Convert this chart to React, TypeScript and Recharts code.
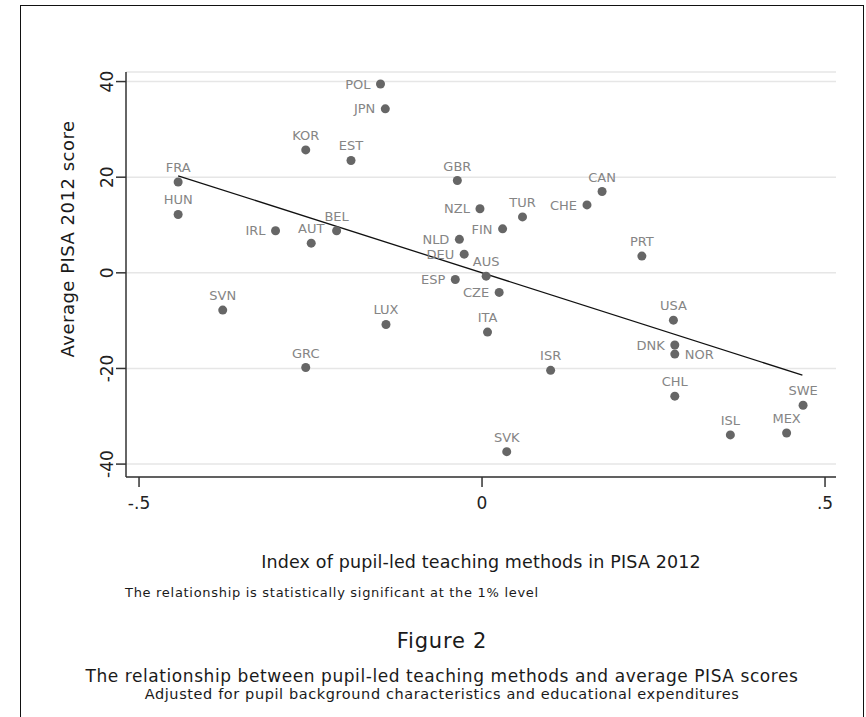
import React from 'react';
import { CartesianGrid, ReferenceLine, Scatter, ScatterChart, XAxis, YAxis } from 'recharts';

// OECD countries, index of pupil-led teaching (x) vs adjusted PISA 2012 score (y)
const codes = [
  'FRA', 'HUN', 'KOR', 'EST', 'IRL', 'AUT', 'BEL', 'SVN', 'GRC', 'POL', 'JPN', 'GBR',
  'CAN', 'CHE', 'NZL', 'TUR', 'FIN', 'NLD', 'DEU', 'AUS', 'ESP', 'CZE', 'LUX', 'ITA',
  'ISR', 'SVK', 'PRT', 'USA', 'DNK', 'NOR', 'CHL', 'SWE', 'ISL', 'MEX',
];
const pupilLed = [
  -0.443, -0.443, -0.257, -0.191, -0.301, -0.249, -0.212, -0.378, -0.257, -0.148, -0.141, -0.036,
  0.175, 0.153, -0.003, 0.059, 0.03, -0.033, -0.026, 0.006, -0.039, 0.025, -0.14, 0.008,
  0.1, 0.036, 0.233, 0.279, 0.281, 0.281, 0.281, 0.468, 0.362, 0.444,
];
const pisaScore = [
  19.0, 12.2, 25.7, 23.5, 8.8, 6.2, 8.8, -7.8, -19.8, 39.5, 34.3, 19.3,
  17.0, 14.2, 13.4, 11.7, 9.2, 7.0, 3.9, -0.7, -1.4, -4.1, -10.8, -12.4,
  -20.4, -37.4, 3.5, -9.9, -15.1, -17.0, -25.8, -27.7, -33.9, -33.5,
];

// fitted line end points
const fitX = [-0.443, 0.467];
const fitY = [20.3, -21.4];

const xTicks = [-0.5, 0, 0.5];
const yTicks = [-40, -20, 0, 20, 40];

const leftLabels = ['IRL', 'POL', 'JPN', 'NZL', 'CHE', 'FIN', 'NLD', 'DEU', 'ESP', 'CZE', 'DNK'];
const rightLabels = ['NOR'];

const FONT = '"DejaVu Sans", sans-serif';
const AXIS = '#333';

const points = codes.map((code, i) => ({ code, x: pupilLed[i], y: pisaScore[i] }));

function fmtX(v: number): string {
  if (v === 0) return '0';
  return v < 0 ? `-${String(-v).replace(/^0/, '')}` : String(v).replace(/^0/, '');
}

function Dot(props: any) {
  const { cx, cy, payload } = props;
  const code: string = payload.code;
  let label;
  if (leftLabels.includes(code)) {
    label = (
      <text x={cx - 10} y={cy} dy="0.36em" textAnchor="end" fontSize={13} fill="#858585" fontFamily={FONT}>
        {code}
      </text>
    );
  } else if (rightLabels.includes(code)) {
    label = (
      <text x={cx + 10} y={cy} dy="0.36em" textAnchor="start" fontSize={13} fill="#858585" fontFamily={FONT}>
        {code}
      </text>
    );
  } else {
    label = (
      <text x={cx} y={cy - 10} textAnchor="middle" fontSize={13} fill="#858585" fontFamily={FONT}>
        {code}
      </text>
    );
  }
  return (
    <g>
      <circle cx={cx} cy={cy} r={4.5} fill="#666" />
      {label}
    </g>
  );
}

function YTick(props: any) {
  const { x, y, payload } = props;
  return (
    <text
      x={x - 1}
      y={y}
      transform={`rotate(-90, ${x - 1}, ${y})`}
      textAnchor="middle"
      fontSize={17}
      fill="#222"
      fontFamily={FONT}
    >
      {payload.value}
    </text>
  );
}

function XTick(props: any) {
  const { x, y, payload } = props;
  return (
    <text x={x} y={y + 20} textAnchor="middle" fontSize={17} fill="#222" fontFamily={FONT}>
      {fmtX(payload.value)}
    </text>
  );
}

const textStyle: React.CSSProperties = {
  position: 'absolute',
  fontFamily: FONT,
  color: '#1a1a1a',
  whiteSpace: 'nowrap',
  lineHeight: 1,
};

export default function App() {
  return (
    <div style={{ position: 'absolute', left: 0, top: 0, width: 866, height: 717, background: '#fff', overflow: 'hidden' }}>
      <div
        style={{
          position: 'absolute',
          left: 20,
          top: 5,
          width: 844,
          height: 740,
          border: '1.5px solid #111',
          boxSizing: 'border-box',
        }}
      />
      <ScatterChart width={866} height={717} margin={{ top: 72, right: 30, left: 70, bottom: 210 }}>
        <CartesianGrid horizontal vertical={false} stroke="#e6e6e6" strokeWidth={1.5} />
        <XAxis
          type="number"
          dataKey="x"
          domain={[-0.519, 0.516]}
          ticks={xTicks}
          height={30}
          tickSize={10}
          axisLine={{ stroke: AXIS, strokeWidth: 1.5 }}
          tickLine={{ stroke: AXIS, strokeWidth: 1.5 }}
          tick={<XTick />}
          allowDataOverflow
        />
        <YAxis
          type="number"
          dataKey="y"
          domain={[-42.7, 42]}
          ticks={yTicks}
          width={56}
          tickSize={10}
          axisLine={{ stroke: AXIS, strokeWidth: 1.5 }}
          tickLine={{ stroke: AXIS, strokeWidth: 1.5 }}
          tick={<YTick />}
          allowDataOverflow
        />
        <ReferenceLine
          segment={[
            { x: fitX[0], y: fitY[0] },
            { x: fitX[1], y: fitY[1] },
          ]}
          stroke="#111"
          strokeWidth={1.3}
        />
        <Scatter data={points} shape={<Dot />} isAnimationActive={false} />
      </ScatterChart>
      <div
        style={{
          ...textStyle,
          left: 68,
          top: 239,
          fontSize: 18,
          letterSpacing: 0.5,
          transform: 'translate(-50%, -50%) rotate(-90deg)',
        }}
      >
        Average PISA 2012 score
      </div>
      <div style={{ ...textStyle, left: 481, top: 563, fontSize: 17.5, letterSpacing: 0.15, transform: 'translate(-50%, -50%)' }}>
        Index of pupil-led teaching methods in PISA 2012
      </div>
      <div style={{ ...textStyle, left: 125, top: 592, fontSize: 13, letterSpacing: 0.7, transform: 'translateY(-50%)' }}>
        The relationship is statistically significant at the 1% level
      </div>
      <div style={{ ...textStyle, left: 442, top: 641, fontSize: 21, letterSpacing: 0.8, transform: 'translate(-50%, -50%)' }}>
        Figure 2
      </div>
      <div style={{ ...textStyle, left: 442, top: 676, fontSize: 17, letterSpacing: 0.57, transform: 'translate(-50%, -50%)' }}>
        The relationship between pupil-led teaching methods and average PISA scores
      </div>
      <div style={{ ...textStyle, left: 442, top: 694, fontSize: 14.5, letterSpacing: 0.6, transform: 'translate(-50%, -50%)' }}>
        Adjusted for pupil background characteristics and educational expenditures
      </div>
    </div>
  );
}
